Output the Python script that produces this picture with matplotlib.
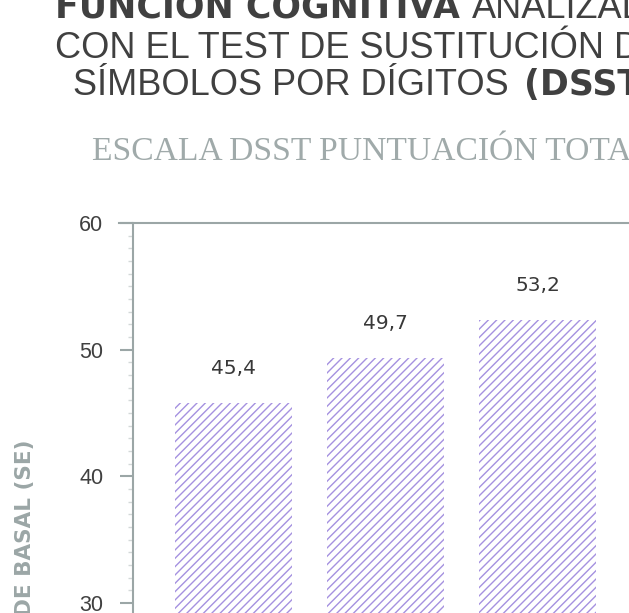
import numpy as np
import matplotlib
matplotlib.use("Agg")
import matplotlib.pyplot as plt
from matplotlib.ticker import MultipleLocator

# datos
grupos = ["A", "B", "C"]
alturas = [45.8, 49.35, 52.35]          # altura de cada barra
etiquetas = ["45,4", "49,7", "53,2"]    # texto sobre cada barra
yticks = [30, 40, 50, 60]

gris_eje = "#9ba6a6"
gris_txt = "#404040"
morado = "#a591e0"

plt.rcParams["font.family"] = ["Liberation Sans", "DejaVu Sans"]
plt.rcParams["hatch.linewidth"] = 1.0

fig = plt.figure(figsize=(6.29, 6.13), dpi=100)
W, H = 629, 613

# ejes: 60 en y=223 px, 12.667 px por unidad, izquierda en x=133 px
ymin, ymax = 28, 60
ppu = 12.667
top_px = 223
bot_px = top_px + (ymax - ymin) * ppu
left_px = 133
ax = fig.add_axes([left_px / W, 1 - bot_px / H, 1 - left_px / W, (bot_px - top_px) / H])

x = np.arange(len(grupos))
ax.bar(x, alturas, width=0.77, color="white", edgecolor=morado, linewidth=0, hatch="////")
for xi, h, t in zip(x, alturas, etiquetas):
    ax.annotate(t, (xi, h), xytext=(0, 18), textcoords="offset points",
                ha="center", va="bottom", fontsize=14.5, color="#383838",
                family=["DejaVu Sans"])

ax.set_ylim(ymin, ymax)
# centro de barra 1 en x=233.5 px, separacion 152 px
ax.set_xlim((left_px - 233.5) / 152, (W - 233.5) / 152)
ax.set_yticks(yticks)
ax.yaxis.set_minor_locator(MultipleLocator(1))
ax.tick_params(axis="y", which="major", length=9.5, width=1.5, color=gris_eje,
               labelsize=15.5, labelcolor=gris_txt, pad=12)
ax.tick_params(axis="y", which="minor", length=3.5, width=1.0, color="#d3d8d8")
ax.set_xticks([])
for s in ["right", "bottom"]:
    ax.spines[s].set_visible(False)
for s in ["left", "top"]:
    ax.spines[s].set_color(gris_eje)
    ax.spines[s].set_linewidth(1.5)
ax.spines["top"].set_bounds(ax.get_xlim()[0] - 0.09, ax.get_xlim()[1])
ax.spines["top"].set_clip_on(False)

fig.text(25 / W, 1 - 440 / H, "DE BASAL (SE)", rotation=90, ha="center", va="top",
         fontsize=15.5, fontweight="bold", color=gris_eje, family=["DejaVu Sans"])

# subtitulo
fig.text(92 / W, 1 - 160 / H, "ESCALA DSST PUNTUACIÓN TOTAL", ha="left", va="baseline",
         fontsize=24.2, color="#a0aaaa", family=["Liberation Serif", "DejaVu Serif"])

# titulo con partes en negrita
fig.canvas.draw()
r = fig.canvas.get_renderer()
def linea(x0, ybase, partes):
    xx = x0
    for txt, peso, hueco in partes:
        fam = ["DejaVu Sans"] if peso == "bold" else ["Liberation Sans"]
        tam = 25 if peso == "bold" else 26
        xx += hueco
        t = fig.text(xx / W, 1 - ybase / H, txt, ha="left", va="baseline",
                     fontsize=tam, fontweight=peso, color=gris_txt, family=fam)
        bb = t.get_window_extent(renderer=r)
        xx += bb.width

linea(55, 18, [("FUNCIÓN COGNITIVA", "bold", 0), ("ANALIZADA", "normal", 12)])
linea(55, 58, [("CON EL TEST DE SUSTITUCIÓN DE", "normal", 0)])
linea(73, 95, [("SÍMBOLOS POR DÍGITOS", "normal", 0), ("(DSST)", "bold", 15)])

fig.savefig("out.png", dpi=100)
